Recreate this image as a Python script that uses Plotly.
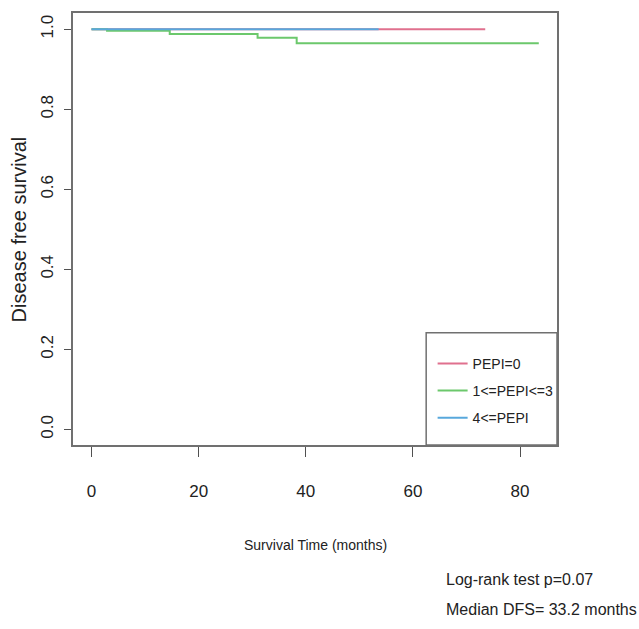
import plotly.graph_objects as go

# ---- data ----
pepi0_time = [0, 73.5]
pepi0_surv = [1.0, 1.0]

pepi13_time = [0, 2.9, 14.6, 31.0, 38.3, 83.5]
pepi13_surv = [1.0, 0.996, 0.988, 0.979, 0.965, 0.965]

pepi4_time = [0, 53.6]
pepi4_surv = [1.0, 1.0]

series_names = ["PEPI=0", "1<=PEPI<=3", "4<=PEPI"]
series_colors = ["#E0708E", "#6CC86C", "#58A8DC"]

x_ticks = [0, 20, 40, 60, 80]
y_ticks = [0.0, 0.2, 0.4, 0.6, 0.8, 1.0]

x_title = "Survival Time (months)"
y_title = "Disease free survival"
note_lines = ["Log-rank test p=0.07", "Median DFS= 33.2 months"]

FONT = "Liberation Sans, Arial, Helvetica, sans-serif"

fig = go.Figure()
for (t, s), name, col in zip(
    [(pepi0_time, pepi0_surv), (pepi13_time, pepi13_surv), (pepi4_time, pepi4_surv)],
    series_names, series_colors):
    fig.add_trace(go.Scatter(
        x=t, y=s, mode="lines", name=name, legendgroup=name,
        line=dict(color=col, width=2, shape="hv"),
    ))

axis_common = dict(
    showline=True, mirror=True, linecolor="#707070", linewidth=1.5,
    showgrid=False, zeroline=False, ticks="outside", tickcolor="#505050",
    tickwidth=1.2,
)

fig.update_layout(
    width=639, height=629,
    margin=dict(l=73, r=82, t=11, b=184),
    paper_bgcolor="white", plot_bgcolor="white",
    showlegend=True,
    legend=dict(
        x=0.743, y=0.225, xanchor="left", yanchor="top",
        bgcolor="rgba(0,0,0,0)", borderwidth=0,
        font=dict(family=FONT, size=14, color="#222"),
        tracegroupgap=6, itemwidth=30,
    ),
    xaxis=dict(
        range=[-3.46, 86.9], tickvals=x_ticks, ticklen=10,
        tickfont=dict(family=FONT, size=17, color="#222"),
        ticklabelstandoff=20,
        **axis_common,
    ),
    yaxis=dict(
        range=[-0.039, 1.0406], tickvals=y_ticks, tickformat=".1f", ticklen=7,
        tickangle=-90,
        tickfont=dict(family=FONT, size=17, color="#222"),
        ticklabelstandoff=4,
        **axis_common,
    ),
    shapes=[dict(
        type="rect", xref="paper", yref="paper",
        x0=0.7297, x1=1.0, y0=0.0, y1=0.2597,
        line=dict(color="#707070", width=1.5), fillcolor="rgba(0,0,0,0)",
    )],
    annotations=[
        dict(text=x_title, xref="paper", yref="paper", x=0.5, y=-0.2304,
             xanchor="center", yanchor="middle", showarrow=False,
             font=dict(family=FONT, size=14, color="#222")),
        dict(text=y_title, xref="paper", yref="paper", x=-0.1107, y=0.5,
             xanchor="center", yanchor="middle", showarrow=False, textangle=-90,
             font=dict(family=FONT, size=20, color="#222")),
        dict(text=note_lines[0], xref="paper", yref="paper", x=0.766, y=-0.311,
             xanchor="left", yanchor="middle", showarrow=False,
             font=dict(family=FONT, size=16, color="#222")),
        dict(text=note_lines[1], xref="paper", yref="paper", x=0.766, y=-0.380,
             xanchor="left", yanchor="middle", showarrow=False,
             font=dict(family=FONT, size=16, color="#222")),
    ],
)

fig.write_html("out.html")
